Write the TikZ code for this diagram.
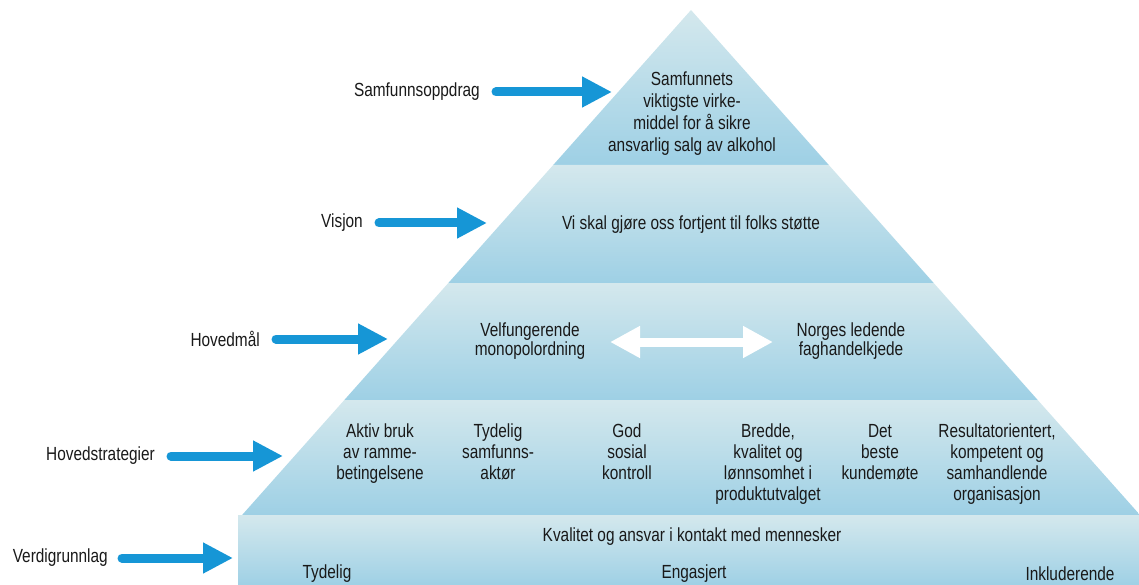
\documentclass[tikz,border=0pt]{standalone}
\usepackage{fontspec}
\setmainfont{Liberation Sans}[FakeStretch=0.81]
\usetikzlibrary{arrows.meta}
\definecolor{bandtop}{RGB}{212,232,237}
\definecolor{bandbot}{RGB}{158,208,229}
\definecolor{arrowblue}{RGB}{22,150,214}
\definecolor{txt}{RGB}{25,25,25}
\begin{document}
\begin{tikzpicture}[x=1pt,y=-1pt,
  band/.style={top color=bandtop,bottom color=bandbot,draw=none},
  lbl/.style={font=\fontsize{19}{22}\selectfont,text=txt,inner sep=0pt,anchor=east},
  txtA/.style={font=\fontsize{19}{22}\selectfont,text=txt,align=center,inner sep=0pt},
  txtB/.style={font=\fontsize{19}{21}\selectfont,text=txt,align=center,inner sep=0pt},
  txtC/.style={font=\fontsize{19}{19}\selectfont,text=txt,align=center,inner sep=0pt},
  bluearr/.style={draw=arrowblue,line width=9pt,line cap=round,-{Triangle[length=30pt,width=29pt]}},
  dblarr/.style={draw=white,line width=9pt,{Triangle[length=30pt,width=30pt]}-{Triangle[length=30pt,width=30pt]}}
]
\useasboundingbox (0,0) rectangle (1139,585);

% pyramid bands
\shade[band] (691,10) -- (828.8,165) -- (553.2,165) -- cycle;
\shade[band] (553.2,165) -- (828.8,165) -- (933.7,283) -- (448.3,283) -- cycle;
\shade[band] (448.3,283) -- (933.7,283) -- (1037.7,400) -- (344.3,400) -- cycle;
\shade[band] (344.3,400) -- (1037.7,400) -- (1140,515) -- (242.1,515) -- cycle;
\shade[band] (238,515) rectangle (1140,586);

% band texts
\node[txtA] (samf) at (692,114) {Samfunnets\\viktigste virke-\\middel for å sikre\\ansvarlig salg av alkohol};
\node[txtA] (visj) at (691,225) {Vi skal gjøre oss fortjent til folks støtte};
\node[txtC] (velf) at (530,341) {Velfungerende\\monopolordning};
\node[txtC] (norg) at (851,341) {Norges ledende\\faghandelkjede};
\coordinate (dl) at (610,342);
\coordinate (dr) at (773,342);
\draw[dblarr] (dl) -- (dr);

\node[txtB,anchor=north] (s1) at (380,424) {Aktiv bruk\\av ramme-\\betingelsene};
\node[txtB,anchor=north] (s2) at (498,424) {Tydelig\\samfunns-\\aktør};
\node[txtB,anchor=north] (s3) at (627,424) {God\\sosial\\kontroll};
\node[txtB,anchor=north] (s4) at (768,424) {Bredde,\\kvalitet og\\lønnsomhet i\\produktutvalget};
\node[txtB,anchor=north] (s5) at (880,424) {Det\\beste\\kundemøte};
\node[txtB,anchor=north] (s6) at (997,424) {Resultatorientert,\\kompetent og\\samhandlende\\organisasjon};

\node[txtA] (kval) at (692,537) {Kvalitet og ansvar i kontakt med mennesker};
\node[txtA] (tyd) at (327,574) {Tydelig};
\node[txtA] (eng) at (694,574) {Engasjert};
\node[txtA] (ink) at (1070,574) {Inkluderende};

% left labels and arrows
\node[lbl] (lSamf) at (480,92) {Samfunnsoppdrag};
\node[lbl] (lVisj) at (363,223) {Visjon};
\node[lbl] (lHoved) at (260,339) {Hovedmål};
\node[lbl] (lStrat) at (155,456) {Hovedstrategier};
\node[lbl] (lVerdi) at (108,558) {Verdigrunnlag};

\coordinate (tSamf) at (612,92);
\coordinate (tVisj) at (487,223);
\coordinate (tHoved) at (388,339);
\coordinate (tStrat) at (283,456);
\coordinate (tVerdi) at (233,558);

\draw[bluearr] ([xshift=16pt]lSamf.east) -- (tSamf);
\draw[bluearr] ([xshift=16pt]lVisj.east) -- (tVisj);
\draw[bluearr] ([xshift=16pt]lHoved.east) -- (tHoved);
\draw[bluearr] ([xshift=16pt]lStrat.east) -- (tStrat);
\draw[bluearr] ([xshift=14pt]lVerdi.east) -- (tVerdi);
\end{tikzpicture}
\end{document}
